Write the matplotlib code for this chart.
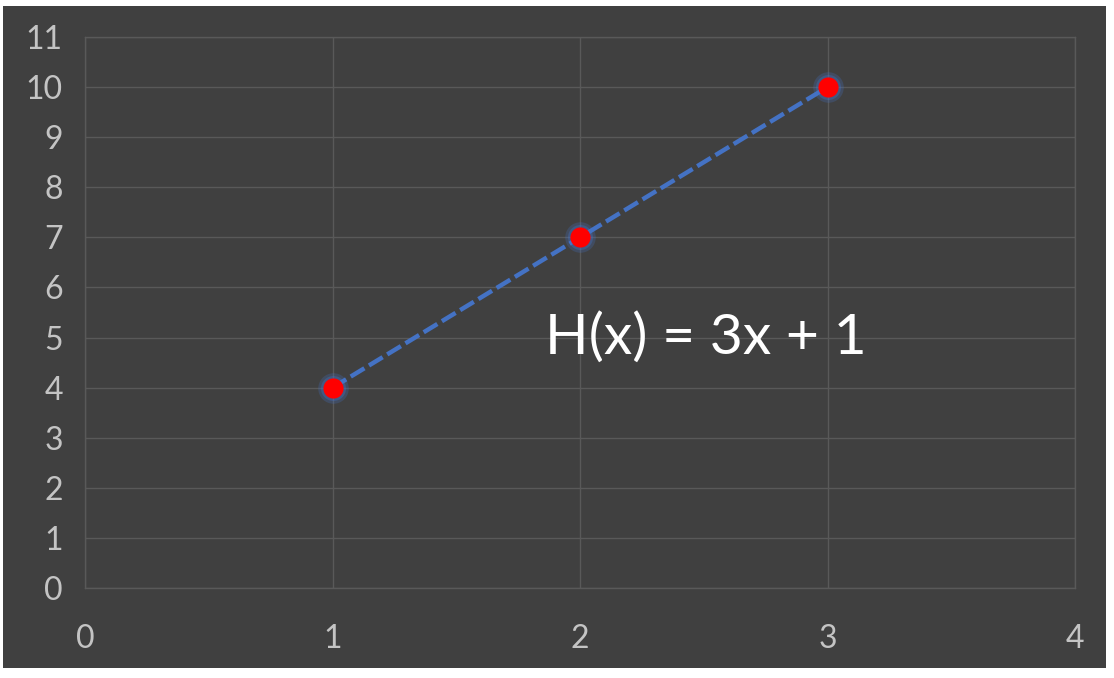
import matplotlib
matplotlib.use("Agg")
import matplotlib.pyplot as plt
from matplotlib.patches import Rectangle

x_vals = [1, 2, 3]
y_vals = [4, 7, 10]
x_ticks = [0, 1, 2, 3, 4]
y_ticks = list(range(0, 12))
label = "H(x) = 3x + 1"

plt.rcParams['font.family'] = ['Lato', 'DejaVu Sans']

fig = plt.figure(figsize=(11.14, 6.78), dpi=100, facecolor='white')
bg = Rectangle((3/1114, 1-668/678), 1103/1114, 662/678,
               transform=fig.transFigure, facecolor='#404040',
               edgecolor='none', zorder=-10)
fig.add_artist(bg)
ax = fig.add_axes([85/1114, 1-588/678, 990/1114, 551/678])
ax.set_zorder(1)
ax.set_facecolor('#404040')
ax.set_xlim(0, 4)
ax.set_ylim(0, 11)
ax.set_xticks(x_ticks)
ax.set_yticks(y_ticks)
ax.grid(True, color='#595959', lw=1)
ax.set_axisbelow(True)
for s in ax.spines.values():
    s.set_color('#595959')
    s.set_linewidth(1)
ax.tick_params(length=0, colors='#c4c4c4', labelsize=23)
ax.tick_params(axis='x', pad=26)
ax.tick_params(axis='y', pad=16)

ax.plot(x_vals, y_vals, ls='--', color='#4472C4', lw=3.2, dashes=(3.6, 1.2), zorder=3)
ax.plot(x_vals, y_vals, ls='none', marker='o', ms=22, color='#4472C4', alpha=0.25,
        markeredgewidth=0, zorder=4)
ax.plot(x_vals, y_vals, ls='none', marker='o', ms=18, color='#4472C4', alpha=0.35,
        markeredgewidth=0, zorder=4)
ax.plot(x_vals, y_vals, ls='none', marker='o', ms=14.5, color='#ff0000',
        markeredgewidth=0, zorder=5)

ax.text(1.86, 5.0, label, color='white', fontsize=41, ha='left', va='center')

fig.savefig('out.png', dpi=100, facecolor='white')
